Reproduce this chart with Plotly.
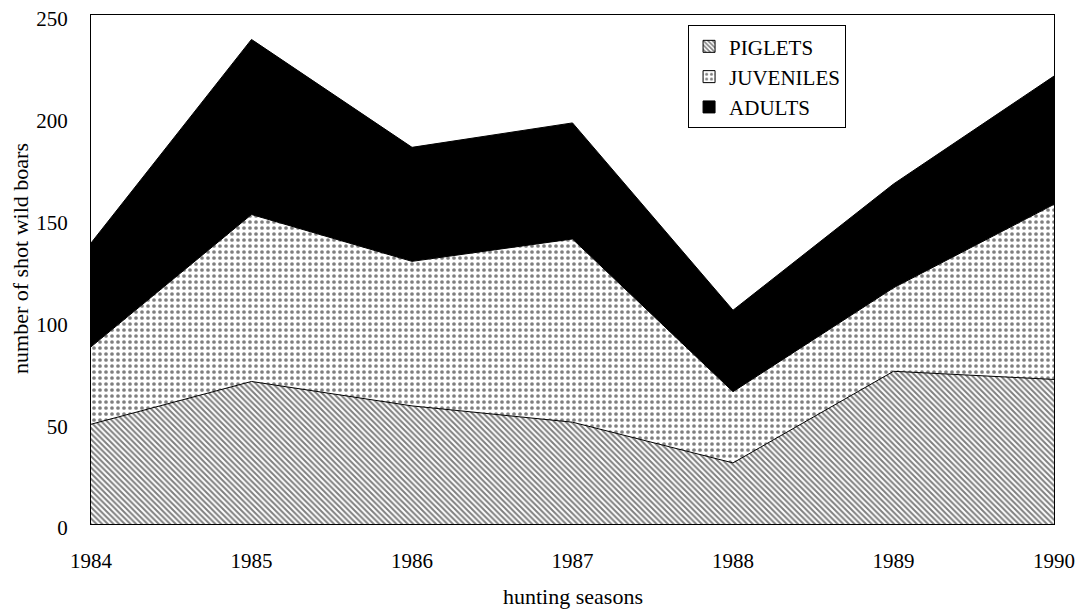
import plotly.graph_objects as go

seasons = [1984, 1985, 1986, 1987, 1988, 1989, 1990]
piglets = [49, 70, 58, 50, 30, 75, 71]
juveniles = [38, 82, 71, 90, 35, 41, 86]
adults = [51, 86, 56, 57, 40, 51, 63]
y_ticks = [0, 50, 100, 150, 200, 250]

FONT = "Liberation Serif"
HATCH = dict(shape="\\", fgcolor="black", bgcolor="white", size=4, solidity=0.5)
DOTS = dict(shape=".", fgcolor="black", bgcolor="white", size=6, solidity=0.3)

fig = go.Figure()
fig.add_trace(go.Scatter(
    x=seasons, y=piglets, name="PIGLETS", stackgroup="one", mode="lines",
    line=dict(color="black", width=1), fillcolor="white", fillpattern=HATCH,
    showlegend=False,
))
fig.add_trace(go.Scatter(
    x=seasons, y=juveniles, name="JUVENILES", stackgroup="one", mode="lines",
    line=dict(color="black", width=1), fillcolor="white", fillpattern=DOTS,
    showlegend=False,
))
fig.add_trace(go.Scatter(
    x=seasons, y=adults, name="ADULTS", stackgroup="one", mode="lines",
    line=dict(color="black", width=1), fillcolor="black",
    showlegend=False,
))

# legend-only swatches
fig.add_trace(go.Bar(x=[None], y=[None], name="PIGLETS", legendgroup="p",
                     marker=dict(color="white", pattern=HATCH, line=dict(color="black", width=1))))
fig.add_trace(go.Bar(x=[None], y=[None], name="JUVENILES", legendgroup="j",
                     marker=dict(color="white", pattern=DOTS, line=dict(color="black", width=1))))
fig.add_trace(go.Bar(x=[None], y=[None], name="ADULTS", legendgroup="a",
                     marker=dict(color="black", line=dict(color="black", width=1))))

fig.update_layout(
    width=1084, height=603,
    margin=dict(l=83, r=38, t=7, b=87),
    paper_bgcolor="white", plot_bgcolor="white",
    font=dict(family=FONT, color="black", size=21),
    showlegend=True,
    legend=dict(
        x=0.62, y=0.98, xanchor="left", yanchor="top",
        traceorder="normal",
        bordercolor="black", borderwidth=1, bgcolor="white",
        font=dict(family=FONT, size=21),
        tracegroupgap=8,
    ),
    xaxis=dict(
        range=[1984, 1990], tickvals=seasons, ticktext=[str(s) for s in seasons],
        showgrid=False, zeroline=False, automargin=False,
        showline=True, linecolor="black", linewidth=1, mirror=True,
        ticks="outside", ticklen=18, tickcolor="rgba(0,0,0,0)",
        tickfont=dict(size=21), ticklabeloverflow="allow",
    ),
    yaxis=dict(
        range=[0, 250], tickvals=y_ticks,
        showgrid=False, zeroline=False, automargin=False,
        showline=True, linecolor="black", linewidth=1, mirror=True,
        ticks="outside", ticklen=18, tickcolor="rgba(0,0,0,0)",
        tickfont=dict(size=21), ticklabeloverflow="allow", ticklabelshift=4,
    ),
    annotations=[
        dict(text="hunting seasons", xref="paper", yref="paper", x=0.5, y=-0.1434,
             xanchor="center", yanchor="middle", showarrow=False, font=dict(size=22)),
        dict(text="number of shot wild boars", xref="paper", yref="paper", x=-0.0727, y=0.5226,
             xanchor="center", yanchor="middle", textangle=-90, showarrow=False, font=dict(size=22)),
    ],
)

fig.write_html("out.html")
